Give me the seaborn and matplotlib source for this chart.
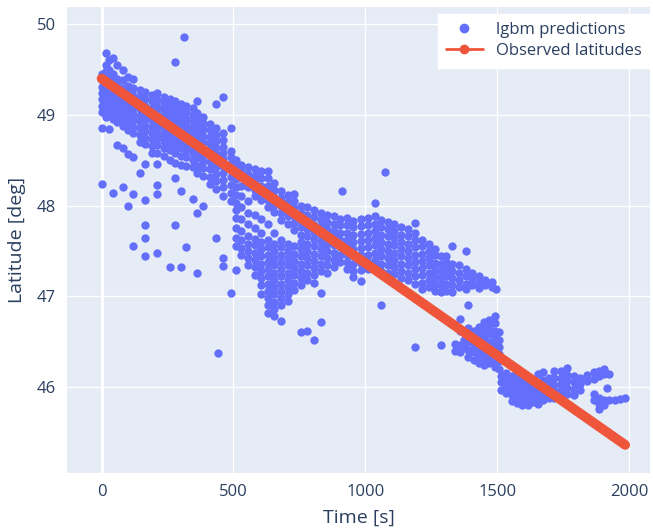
import numpy as np
import pandas as pd
import seaborn as sns
import matplotlib.pyplot as plt
from matplotlib.lines import Line2D

# lgbm predictions: time [s] -> latitudes [deg]
pred_0_500 = {
    0: [49.45, 49.38, 49.31, 49.24, 49.17, 49.10, 49.03, 48.85, 48.24],
    15: [49.68, 49.55, 49.48, 49.40, 49.33, 49.26, 49.19, 49.12, 49.05, 48.98],
    30: [49.60, 49.50, 49.42, 49.35, 49.28, 49.21, 49.14, 49.07, 49.00, 48.84],
    45: [49.63, 49.45, 49.37, 49.30, 49.23, 49.16, 49.09, 49.02, 48.95, 48.14],
    60: [49.55, 49.40, 49.33, 49.26, 49.19, 49.12, 49.05, 48.98, 48.92, 48.67],
    80: [49.50, 49.38, 49.30, 49.23, 49.16, 49.09, 49.02, 48.95, 48.88, 48.64, 48.20],
    100: [49.42, 49.32, 49.25, 49.18, 49.11, 49.04, 48.97, 48.90, 48.83, 48.57, 48.00],
    120: [49.40, 49.30, 49.22, 49.15, 49.08, 49.01, 48.94, 48.87, 48.80, 48.54, 48.13, 47.55],
    145: [49.28, 49.20, 49.13, 49.06, 48.99, 48.92, 48.85, 48.78, 48.70, 48.36],
    165: [49.25, 49.18, 49.10, 49.03, 48.96, 48.89, 48.82, 48.75, 48.68, 48.46, 48.06, 47.78, 47.64, 47.44],
    190: [49.22, 49.15, 49.08, 49.01, 48.94, 48.87, 48.80, 48.73, 48.66, 48.58],
    210: [49.24, 49.16, 49.09, 49.02, 48.95, 48.88, 48.81, 48.74, 48.67, 48.58, 48.46, 48.23, 48.13, 47.48],
    235: [49.20, 49.13, 49.06, 48.99, 48.92, 48.85, 48.78, 48.71, 48.64, 48.55],
    260: [49.18, 49.10, 49.03, 48.96, 48.89, 48.82, 48.75, 48.68, 48.61, 48.50, 47.32],
    280: [49.58, 49.15, 49.08, 49.01, 48.94, 48.87, 48.80, 48.73, 48.66, 48.58, 48.47, 48.30, 47.78],
    300: [49.12, 49.05, 48.98, 48.91, 48.84, 48.77, 48.70, 48.63, 48.55, 48.45, 48.16, 47.32],
    311: [49.86],
    320: [49.10, 49.03, 48.96, 48.89, 48.82, 48.75, 48.68, 48.61, 48.53, 48.44, 47.54],
    345: [49.08, 49.00, 48.93, 48.86, 48.79, 48.72, 48.65, 48.58, 48.50, 48.42, 48.07],
    360: [49.15, 49.02, 48.95, 48.88, 48.81, 48.74, 48.67, 48.60, 48.52, 48.44, 48.36, 47.92, 47.26],
    385: [48.98, 48.91, 48.84, 48.77, 48.70, 48.63, 48.56, 48.49, 48.41, 48.33, 48.00],
    410: [48.90, 48.83, 48.76, 48.69, 48.62, 48.55, 48.48, 48.40, 48.32, 48.24],
    435: [49.12, 48.85, 48.78, 48.71, 48.64, 48.57, 48.50, 48.43, 48.35, 48.27, 48.18, 47.64],
    443: [46.37],
    460: [49.20, 48.80, 48.72, 48.65, 48.58, 48.51, 48.44, 48.36, 48.28, 48.20, 48.10, 47.42, 47.33],
    490: [48.85, 48.60, 48.53, 48.46, 48.39, 48.31, 48.23, 48.14, 48.05, 47.04],
}

pred_500_900 = {
    510: [48.50, 48.43, 48.36, 48.29, 48.20, 48.12, 48.03, 47.95, 47.86, 47.75, 47.64, 47.55, 47.29],
    530: [48.45, 48.38, 48.31, 48.22, 48.10, 47.98, 47.85, 47.72, 47.62, 47.53, 47.45],
    555: [48.42, 48.35, 48.27, 48.20, 48.05, 47.92, 47.80, 47.66, 47.58, 47.50, 47.42, 47.34],
    580: [48.40, 48.33, 48.25, 48.17, 48.10, 47.90, 47.75, 47.63, 47.56, 47.48, 47.40, 47.32, 47.23],
    605: [48.38, 48.30, 48.22, 48.14, 48.06, 47.85, 47.70, 47.60, 47.52, 47.44, 47.36, 47.28, 47.20, 47.12, 47.02],
    630: [48.38, 48.30, 48.22, 48.14, 48.06, 47.98, 47.80, 47.62, 47.54, 47.46, 47.38, 47.30, 47.22, 47.14, 47.06, 46.98, 46.90, 46.82],
    655: [48.25, 48.17, 48.09, 48.01, 47.93, 47.70, 47.58, 47.50, 47.42, 47.34, 47.26, 47.18, 47.10, 47.02, 46.94, 46.86, 46.78],
    680: [48.16, 48.08, 48.00, 47.92, 47.84, 47.62, 47.54, 47.46, 47.38, 47.30, 47.22, 47.14, 47.06, 46.98, 46.90, 46.73],
    705: [48.12, 48.04, 47.96, 47.88, 47.80, 47.58, 47.50, 47.42, 47.34, 47.26, 47.18, 47.10, 47.02, 46.95],
    730: [48.13, 48.05, 47.97, 47.89, 47.81, 47.73, 47.55, 47.47, 47.39, 47.31, 47.23, 47.15, 47.07],
    755: [48.00, 47.92, 47.84, 47.76, 47.68, 47.60, 47.52, 47.44, 47.36, 47.28, 47.20, 47.12, 46.60],
    780: [47.98, 47.90, 47.82, 47.74, 47.66, 47.58, 47.50, 47.42, 47.34, 47.26, 47.18, 46.62],
    805: [47.95, 47.87, 47.79, 47.71, 47.63, 47.55, 47.47, 47.39, 47.31, 47.23, 47.15, 46.52],
    830: [47.92, 47.84, 47.76, 47.68, 47.60, 47.52, 47.44, 47.36, 47.28, 47.04, 46.72],
    855: [47.90, 47.82, 47.74, 47.66, 47.58, 47.50, 47.42, 47.34, 47.26],
    880: [47.88, 47.80, 47.72, 47.64, 47.56, 47.48, 47.40, 47.32],
}

pred_900_1500 = {
    905: [47.85, 47.78, 47.70, 47.62, 47.54, 47.46, 47.38],
    913: [48.16],
    930: [47.86, 47.78, 47.70, 47.62, 47.54, 47.46, 47.38, 47.30],
    955: [47.83, 47.76, 47.68, 47.60, 47.52, 47.44, 47.36, 47.28, 47.21],
    985: [47.85, 47.77, 47.69, 47.61, 47.53, 47.45, 47.37, 47.29, 47.17],
    1010: [47.86, 47.78, 47.70, 47.62, 47.54, 47.46, 47.38, 47.30],
    1035: [48.03, 47.88, 47.80, 47.72, 47.64, 47.56, 47.48, 47.40, 47.32],
    1060: [47.84, 47.76, 47.68, 47.60, 47.52, 47.44, 47.36, 47.28, 46.90],
    1076: [48.37],
    1085: [47.82, 47.74, 47.66, 47.58, 47.50, 47.42, 47.34, 47.26],
    1110: [47.80, 47.72, 47.64, 47.56, 47.48, 47.40, 47.32, 47.24],
    1135: [47.76, 47.68, 47.60, 47.52, 47.44, 47.36, 47.28, 47.20],
    1160: [47.74, 47.66, 47.58, 47.50, 47.42, 47.34, 47.26, 47.18],
    1190: [47.81, 47.70, 47.62, 47.54, 47.46, 47.38, 47.30, 47.22, 47.14, 46.44],
    1215: [47.62, 47.55, 47.47, 47.39, 47.31, 47.23, 47.15, 47.08],
    1240: [47.58, 47.50, 47.42, 47.34, 47.26, 47.18, 47.10],
    1265: [47.52, 47.45, 47.37, 47.29, 47.21, 47.13, 47.06],
    1285: [47.44, 47.36, 47.28, 47.20, 47.12, 47.05, 46.46],
    1305: [47.44, 47.38, 47.30, 47.22, 47.14, 47.06],
    1330: [47.55, 47.36, 47.28, 47.20, 47.12, 47.05],
    1355: [47.34, 47.26, 47.18, 47.10],
    1380: [47.50, 47.30, 47.22, 47.14, 47.08],
    1405: [47.26, 47.19, 47.12],
    1430: [47.22, 47.15, 47.09],
    1455: [47.18, 47.12],
    1480: [47.16, 47.10],
    1495: [47.08],
}

pred_1340_1510 = {
    1340: [46.47, 46.40],
    1360: [46.75, 46.62, 46.46, 46.38],
    1375: [46.60, 46.52, 46.44],
    1390: [46.90, 46.65, 46.57, 46.49, 46.41, 46.33],
    1410: [46.62, 46.54, 46.46, 46.38, 46.30],
    1430: [46.66, 46.58, 46.50, 46.42, 46.34, 46.26],
    1450: [46.72, 46.64, 46.56, 46.48, 46.40, 46.32, 46.24],
    1470: [46.74, 46.66, 46.58, 46.50, 46.42, 46.34, 46.26],
    1490: [46.78, 46.70, 46.62, 46.54, 46.46, 46.38, 46.30, 46.22],
    1505: [46.60, 46.52, 46.44, 46.36, 46.28, 46.20],
}

pred_1510_2000 = {
    1515: [46.12, 46.05, 45.97],
    1535: [46.15, 46.08, 46.00, 45.93],
    1555: [46.12, 46.05, 45.98, 45.91, 45.84],
    1575: [46.10, 46.03, 45.96, 45.89, 45.82],
    1595: [46.08, 46.01, 45.94, 45.87, 45.80],
    1615: [46.06, 45.99, 45.92, 45.85, 45.80],
    1635: [46.04, 45.97, 45.90, 45.83],
    1655: [46.14, 46.02, 45.95, 45.88, 45.81],
    1675: [46.16, 46.08, 46.00, 45.93, 45.86],
    1695: [46.10, 46.02, 45.95, 45.88],
    1715: [46.18, 46.10, 46.02, 45.95, 45.88],
    1740: [46.17, 46.10, 46.03, 45.96, 45.89],
    1765: [46.21, 46.13, 46.06, 45.99, 45.92],
    1790: [46.12, 46.05, 45.98, 45.91],
    1815: [46.10, 46.03, 45.96],
    1840: [46.13, 46.06],
    1865: [46.16, 46.09, 45.92, 45.85],
    1885: [46.18, 46.12, 45.88, 45.81, 45.76],
    1905: [46.20, 46.14, 45.86, 45.80],
    1917: [45.99],
    1925: [46.14, 45.85],
    1945: [45.86],
    1965: [45.87],
    1985: [45.88],
}

# observed latitudes (straight track)
obs_time = [0, 1985]
obs_lat = [49.40, 45.36]

rows = []
for seg in [pred_0_500, pred_500_900, pred_900_1500, pred_1340_1510, pred_1510_2000]:
    for t, lats in seg.items():
        for la in lats:
            rows.append((t, la))
pred_df = pd.DataFrame(rows, columns=["time", "lat"])
obs_df = pd.DataFrame({"time": obs_time, "lat": obs_lat})

blue = "#636EFA"
red = "#EF553B"
txt = "#2a3f5f"

sns.set_theme(style="darkgrid", rc={
    "axes.facecolor": "#E5ECF6",
    "grid.color": "white",
    "grid.linewidth": 1.0,
    "axes.edgecolor": "none",
})
plt.rcParams["font.family"] = ["Open Sans", "DejaVu Sans"]

fig = plt.figure(figsize=(6.53, 5.31), dpi=100)
ax = fig.add_axes([67 / 653, 58 / 531, 583 / 653, 466 / 531])

sns.scatterplot(data=pred_df, x="time", y="lat", color=blue, s=36, linewidth=0, ax=ax, zorder=3)
sns.lineplot(data=obs_df, x="time", y="lat", color=red, lw=7, ax=ax, zorder=4,
             solid_capstyle="round")
ax.axvline(0, color="white", lw=2.2, zorder=1)

ax.set_xlim(-131, 2079)
ax.set_ylim(45.05, 50.19)
ax.set_xticks([0, 500, 1000, 1500, 2000])
ax.set_yticks([46, 47, 48, 49, 50])
ax.tick_params(axis="both", labelsize=12, colors=txt, length=0, pad=8)
ax.set_xlabel("Time [s]", fontsize=14, color=txt, labelpad=6)
ax.set_ylabel("Latitude [deg]", fontsize=14, color=txt, labelpad=8)

handles = [
    Line2D([], [], color=blue, marker="o", ls="none", markersize=6),
    Line2D([], [], color=red, marker="o", lw=2, markersize=6),
]
leg = ax.legend(handles, ["lgbm predictions", "Observed latitudes"], loc="upper right",
                bbox_to_anchor=(1.0, 0.985), borderaxespad=0, fontsize=12,
                frameon=True, fancybox=False, handlelength=2.2, labelspacing=0.3,
                borderpad=0.5)
leg.get_frame().set_facecolor("white")
leg.get_frame().set_edgecolor("white")
leg.get_frame().set_alpha(1)
for t in leg.get_texts():
    t.set_color(txt)

plt.savefig("out.png", dpi=100)
